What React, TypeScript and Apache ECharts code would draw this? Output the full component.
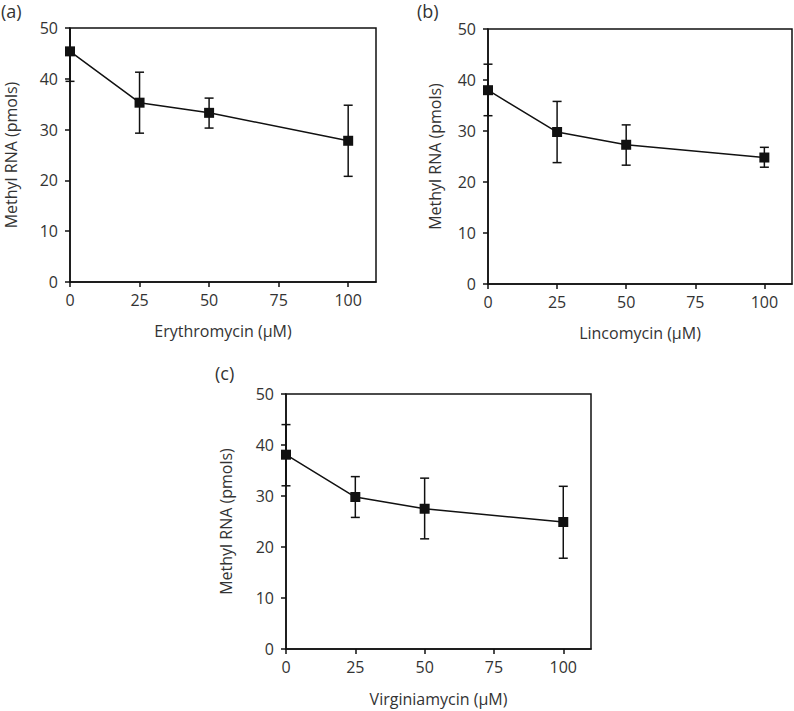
import React, { useEffect, useRef } from "react";
import * as echarts from "echarts";

const concentrations = [0, 25, 50, 100];
const xTicks = [0, 25, 50, 75, 100];

const erythroMean = [45.4, 35.3, 33.3, 27.8];
const erythroLow = [39.5, 29.3, 30.3, 20.8];
const erythroHigh = [51.3, 41.3, 36.2, 34.8];

const lincoMean = [38.0, 29.8, 27.3, 24.8];
const lincoLow = [33.0, 23.8, 23.3, 22.9];
const lincoHigh = [43.1, 35.8, 31.2, 26.8];

const virginiaMean = [38.1, 29.8, 27.5, 24.9];
const virginiaLow = [32.0, 25.8, 21.6, 17.8];
const virginiaHigh = [44.0, 33.8, 33.5, 31.9];

const panelLetters = ["(a)", "(b)", "(c)"];
const drugNames = ["Erythromycin (μM)", "Lincomycin (μM)", "Virginiamycin (μM)"];
const yName = "Methyl RNA (pmols)";

const Y_MIN = 0;
const Y_MAX = 50;

const FONT = "'Open Sans', 'Noto Sans', sans-serif";
const TEXT = "#333";
const INK = "#111";

export default function App() {
  const ref = useRef<HTMLDivElement>(null);

  useEffect(() => {
    if (!ref.current) return;
    const chart = echarts.init(ref.current, undefined, { renderer: "svg" });

    const panels = [
      { mean: erythroMean, low: erythroLow, high: erythroHigh, grid: { left: 70, top: 28, width: 306, height: 254 }, yGap: 51, xGap: 41 },
      { mean: lincoMean, low: lincoLow, high: lincoHigh, grid: { left: 488, top: 29, width: 304, height: 255 }, yGap: 45, xGap: 41 },
      { mean: virginiaMean, low: virginiaLow, high: virginiaHigh, grid: { left: 286, top: 394, width: 305, height: 255 }, yGap: 52, xGap: 42 },
    ];

    const grids: any[] = [];
    const xAxes: any[] = [];
    const yAxes: any[] = [];
    const series: any[] = [];

    panels.forEach((p, i) => {
      grids.push({
        ...p.grid,
        show: true,
        borderColor: INK,
        borderWidth: 1.5,
        backgroundColor: "transparent",
      });
      xAxes.push({
        type: "value",
        gridIndex: i,
        min: 0,
        max: 110,
        interval: 25,
        name: drugNames[i],
        nameLocation: "middle",
        nameGap: p.xGap,
        nameTextStyle: { fontFamily: FONT, fontSize: 16, color: TEXT },
        axisLine: { show: true, onZero: false, lineStyle: { color: INK, width: 1.5 } },
        axisTick: { show: true, inside: false, length: 5, customValues: xTicks, lineStyle: { color: INK, width: 1.5 } },
        axisLabel: { margin: 10, customValues: xTicks, fontFamily: FONT, fontSize: 16, color: TEXT },
        splitLine: { show: false },
      });
      yAxes.push({
        type: "value",
        gridIndex: i,
        min: Y_MIN,
        max: Y_MAX,
        interval: 10,
        name: yName,
        nameLocation: "middle",
        nameGap: p.yGap,
        nameTextStyle: { fontFamily: FONT, fontSize: 16, color: TEXT },
        axisLine: { show: true, onZero: false, lineStyle: { color: INK, width: 1.5 } },
        axisTick: { show: true, inside: false, length: 5, lineStyle: { color: INK, width: 1.5 } },
        axisLabel: { margin: 12, fontFamily: FONT, fontSize: 16, color: TEXT },
        splitLine: { show: false },
      });

      const errData = concentrations.map((c, k) => [c, p.mean[k], p.low[k], p.high[k]]);
      series.push({
        type: "custom",
        xAxisIndex: i,
        yAxisIndex: i,
        z: 2,
        clip: false,
        data: errData,
        encode: { x: 0, y: [1, 2, 3] },
        renderItem: (params: any, api: any) => {
          const x = api.value(0);
          const lo = api.value(2);
          const hi = api.value(3);
          const hiClamped = Math.min(hi, Y_MAX);
          const pHi = api.coord([x, hiClamped]);
          const pLo = api.coord([x, lo]);
          const cap = 4.5;
          const style = { stroke: INK, lineWidth: 1.5 };
          const children: any[] = [
            { type: "line", shape: { x1: pHi[0], y1: pHi[1], x2: pLo[0], y2: pLo[1] }, style },
            { type: "line", shape: { x1: pLo[0] - cap, y1: pLo[1], x2: pLo[0] + cap, y2: pLo[1] }, style },
          ];
          if (hi <= Y_MAX) {
            children.push({ type: "line", shape: { x1: pHi[0] - cap, y1: pHi[1], x2: pHi[0] + cap, y2: pHi[1] }, style });
          }
          return { type: "group", children };
        },
      });
      series.push({
        type: "line",
        xAxisIndex: i,
        yAxisIndex: i,
        z: 3,
        data: concentrations.map((c, k) => [c, p.mean[k]]),
        symbol: "rect",
        symbolSize: 10,
        showSymbol: true,
        itemStyle: { color: INK },
        lineStyle: { color: INK, width: 1.5 },
      });
    });

    chart.setOption({
      animation: false,
      backgroundColor: "#fff",
      grid: grids,
      xAxis: xAxes,
      yAxis: yAxes,
      series,
      graphic: [
        { type: "text", left: 1, top: 2, style: { text: panelLetters[0], fontFamily: FONT, fontSize: 18, fill: TEXT } },
        { type: "text", left: 417, top: 2, style: { text: panelLetters[1], fontFamily: FONT, fontSize: 18, fill: TEXT } },
        { type: "text", left: 215, top: 364, style: { text: panelLetters[2], fontFamily: FONT, fontSize: 18, fill: TEXT } },
      ],
    });

    return () => chart.dispose();
  }, []);

  return (
    <div
      ref={ref}
      style={{ position: "fixed", left: 0, top: 0, width: 794, height: 711, background: "#fff" }}
    />
  );
}
